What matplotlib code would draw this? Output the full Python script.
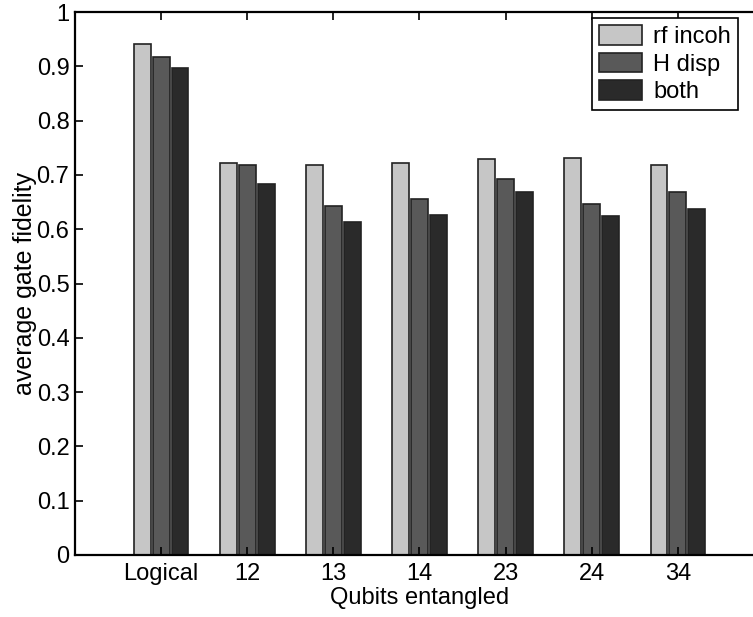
import numpy as np
import matplotlib
matplotlib.use("Agg")
import matplotlib.pyplot as plt

plt.rcParams['font.family'] = ['Liberation Sans', 'DejaVu Sans']

groups = ['Logical', '12', '13', '14', '23', '24', '34']
rf_incoh = [0.941, 0.722, 0.719, 0.722, 0.729, 0.732, 0.718]
h_disp = [0.917, 0.718, 0.643, 0.656, 0.692, 0.646, 0.669]
both = [0.897, 0.684, 0.613, 0.627, 0.668, 0.624, 0.637]
series_names = ['rf incoh', 'H disp', 'both']

fig = plt.figure(figsize=(7.53, 6.17), dpi=100)
# axes run a little past the right edge of the figure
ax = fig.add_axes([0.0996, 0.1005, 0.915, 0.880])

x = np.arange(1, len(groups) + 1)
w = 0.195
off = 0.22
colors = ['#c6c6c6', '#595959', '#2a2a2a']
for i, (vals, name) in enumerate(zip([rf_incoh, h_disp, both], series_names)):
    ax.bar(x + (i - 1) * off, vals, w, color=colors[i], edgecolor='#222222',
           linewidth=1.2, label=name)

ax.set_xlim(0, 8)
ax.set_ylim(0, 1)
ax.set_xticks(x)
ax.set_xticklabels(groups)
ax.set_yticks(np.arange(0, 1.01, 0.1))
ax.set_yticklabels(['0'] + ['%.1f' % v for v in np.arange(0.1, 0.95, 0.1)] + ['1'])
ax.tick_params(direction='in', length=6, width=1.2, labelsize=17,
               top=True, right=True, pad=4)
ax.tick_params(axis='x', pad=6)
for s in ax.spines.values():
    s.set_linewidth(1.6)

ax.set_xlabel('Qubits entangled', fontsize=17, labelpad=1)
ax.set_ylabel('average gate fidelity', fontsize=18, labelpad=0)

leg = fig.legend(loc='upper left', bbox_to_anchor=(592 / 753, 1 - 18 / 617),
                 fontsize=17, frameon=True, fancybox=False, framealpha=1,
                 borderaxespad=0, handlelength=1.8, handleheight=0.9,
                 labelspacing=0.2, borderpad=0.3, handletextpad=0.5)
leg.get_frame().set_edgecolor('black')
leg.get_frame().set_linewidth(1.2)

fig.savefig('out.png', dpi=100)
